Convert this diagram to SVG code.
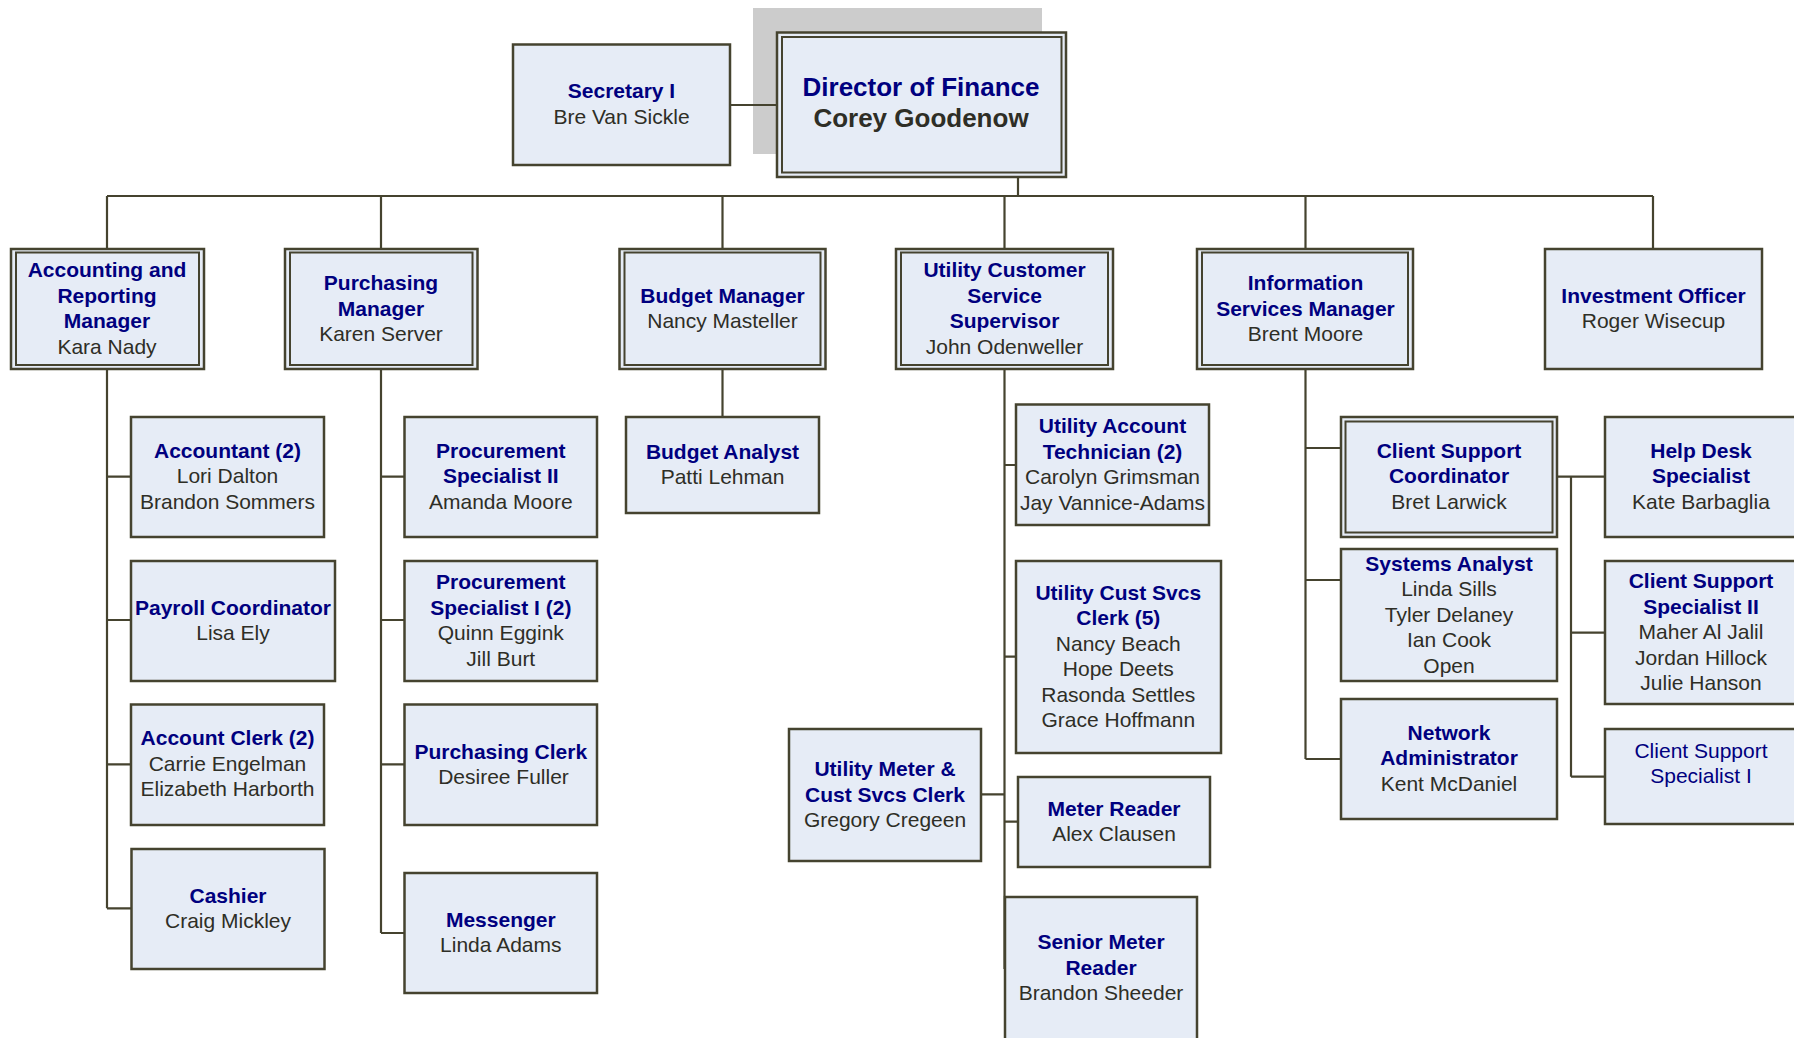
<svg xmlns="http://www.w3.org/2000/svg" width="1794" height="1038" viewBox="0 0 1794 1038">
<style>
  .bg{fill:#ffffff}
  .box{fill:#e6ecf6;stroke:#45432f;stroke-width:2.5}
  .inner{fill:none;stroke:#45432f;stroke-width:2}
  .shadow{fill:#cccccc}
  .conn{fill:none;stroke:#45432f;stroke-width:2.2}
  text{font-family:"Liberation Sans",Arial,Helvetica,sans-serif;font-size:21px;text-anchor:middle;transform:translateY(-1px)}
  .t{font-weight:bold;fill:#00007f}
  .n{fill:#2e2e26}
  .tn{fill:#00007f}
  .big{font-size:26px}
</style>
<rect class="bg" x="0" y="0" width="1794" height="1038"/>
<rect class="shadow" x="753" y="8" width="289" height="146"/>

<g id="connectors">
  <path class="conn" d="M730,105 H777"/>
  <path class="conn" d="M1018,177 V196"/>
  <path class="conn" d="M107,196 H1653"/>
  <path class="conn" d="M107,196 V249 M381,196 V249 M722.5,196 V249 M1004.5,196 V249 M1305.5,196 V249 M1653,196 V249"/>
  <path class="conn" d="M107,369 V908.3 M107,476.7 H131 M107,620 H131 M107,764.3 H131 M107,908.3 H131.5"/>
  <path class="conn" d="M381,369 V933 M381,476.7 H404.5 M381,620 H404.5 M381,764.3 H404.5 M381,933 H404.5"/>
  <path class="conn" d="M722.5,369 V417"/>
  <path class="conn" d="M1004.5,369 V969 M1004.5,465 H1016 M1004.5,656.7 H1016 M1004.5,821.7 H1018 M1004.5,794.3 H981"/>
  <path class="conn" d="M1305.5,369 V759 M1305.5,448 H1341 M1305.5,580 H1341 M1305.5,759 H1341"/>
  <path class="conn" d="M1557,476.7 H1605 M1571,476.7 V776.7 M1571,632.7 H1605 M1571,776.7 H1605"/>
</g>

<g id="director">
  <rect class="box" x="777" y="32.5" width="289" height="144.5"/>
  <rect class="inner" x="782" y="37" width="279.5" height="135.5"/>
  <text class="t big" x="921" y="97">Director of Finance</text>
  <text class="t big" x="921" y="128" style="fill:#2e2e26">Corey Goodenow</text>
</g>

<g id="secretary">
  <rect class="box" x="513" y="44.5" width="217" height="120.5"/>
  <text class="t" x="621.5" y="99">Secretary I</text>
  <text class="n" x="621.5" y="124.5">Bre Van Sickle</text>
</g>

<g id="accounting-manager">
  <rect class="box" x="11" y="249" width="193" height="120"/>
  <rect class="inner" x="16" y="252.5" width="183" height="112.5"/>
  <text class="t" x="107" y="278">Accounting and</text>
  <text class="t" x="107" y="303.5">Reporting</text>
  <text class="t" x="107" y="329">Manager</text>
  <text class="n" x="107" y="354.5">Kara Nady</text>
</g>

<g id="purchasing-manager">
  <rect class="box" x="285" y="249" width="192.5" height="120"/>
  <rect class="inner" x="290" y="252.5" width="182.5" height="112.5"/>
  <text class="t" x="381" y="291">Purchasing</text>
  <text class="t" x="381" y="316.5">Manager</text>
  <text class="n" x="381" y="342">Karen Server</text>
</g>

<g id="budget-manager">
  <rect class="box" x="619.5" y="249" width="206" height="120"/>
  <rect class="inner" x="624.5" y="252.5" width="196" height="112.5"/>
  <text class="t" x="722.5" y="303.5">Budget Manager</text>
  <text class="n" x="722.5" y="329">Nancy Masteller</text>
</g>

<g id="utility-supervisor">
  <rect class="box" x="896" y="249" width="217" height="120"/>
  <rect class="inner" x="901" y="252.5" width="207" height="112.5"/>
  <text class="t" x="1004.5" y="278">Utility Customer</text>
  <text class="t" x="1004.5" y="303.5">Service</text>
  <text class="t" x="1004.5" y="329">Supervisor</text>
  <text class="n" x="1004.5" y="354.5">John Odenweller</text>
</g>

<g id="info-services-manager">
  <rect class="box" x="1197" y="249" width="216" height="120"/>
  <rect class="inner" x="1202" y="252.5" width="206" height="112.5"/>
  <text class="t" x="1305.5" y="291">Information</text>
  <text class="t" x="1305.5" y="316.5">Services Manager</text>
  <text class="n" x="1305.5" y="342">Brent Moore</text>
</g>

<g id="investment-officer">
  <rect class="box" x="1545" y="249" width="217" height="120"/>
  <text class="t" x="1653.5" y="303.5">Investment Officer</text>
  <text class="n" x="1653.5" y="329">Roger Wisecup</text>
</g>

<g id="accountant">
  <rect class="box" x="131" y="417" width="193" height="120"/>
  <text class="t" x="227.5" y="458.5">Accountant (2)</text>
  <text class="n" x="227.5" y="484">Lori Dalton</text>
  <text class="n" x="227.5" y="509.5">Brandon Sommers</text>
</g>

<g id="payroll-coordinator">
  <rect class="box" x="131" y="561" width="204" height="120"/>
  <text class="t" x="233" y="615.75">Payroll Coordinator</text>
  <text class="n" x="233" y="641.25">Lisa Ely</text>
</g>

<g id="account-clerk">
  <rect class="box" x="131" y="704.5" width="193" height="120.5"/>
  <text class="t" x="227.5" y="746.25">Account Clerk (2)</text>
  <text class="n" x="227.5" y="771.75">Carrie Engelman</text>
  <text class="n" x="227.5" y="797.25">Elizabeth Harborth</text>
</g>

<g id="cashier">
  <rect class="box" x="131.5" y="849" width="193" height="120"/>
  <text class="t" x="228" y="903.75">Cashier</text>
  <text class="n" x="228" y="929.25">Craig Mickley</text>
</g>

<g id="procurement-specialist-2">
  <rect class="box" x="404.5" y="417" width="192.5" height="120"/>
  <text class="t" x="500.8" y="458.5">Procurement</text>
  <text class="t" x="500.8" y="484">Specialist II</text>
  <text class="n" x="500.8" y="509.5">Amanda Moore</text>
</g>

<g id="procurement-specialist-1">
  <rect class="box" x="404.5" y="561" width="192.5" height="120"/>
  <text class="t" x="500.8" y="590.25">Procurement</text>
  <text class="t" x="500.8" y="615.75">Specialist I (2)</text>
  <text class="n" x="500.8" y="641.25">Quinn Eggink</text>
  <text class="n" x="500.8" y="666.75">Jill Burt</text>
</g>

<g id="purchasing-clerk">
  <rect class="box" x="404.5" y="704.5" width="192.5" height="120.5"/>
  <text class="t" x="500.8" y="759.5">Purchasing Clerk</text>
  <text class="n" x="503.5" y="785">Desiree Fuller</text>
</g>

<g id="messenger">
  <rect class="box" x="404.5" y="873" width="192.5" height="120"/>
  <text class="t" x="500.8" y="927.75">Messenger</text>
  <text class="n" x="500.8" y="953.25">Linda Adams</text>
</g>

<g id="budget-analyst">
  <rect class="box" x="626" y="417" width="193" height="96"/>
  <text class="t" x="722.5" y="459.75">Budget Analyst</text>
  <text class="n" x="722.5" y="485.25">Patti Lehman</text>
</g>

<g id="utility-account-technician">
  <rect class="box" x="1016" y="404.5" width="193" height="120.5"/>
  <text class="t" x="1112.5" y="434">Utility Account</text>
  <text class="t" x="1112.5" y="459.5">Technician (2)</text>
  <text class="n" x="1112.5" y="485">Carolyn Grimsman</text>
  <text class="n" x="1112.5" y="510.5">Jay Vannice-Adams</text>
</g>

<g id="utility-cust-svcs-clerk">
  <rect class="box" x="1016" y="561" width="205" height="192"/>
  <text class="t" x="1118.3" y="600.75">Utility Cust Svcs</text>
  <text class="t" x="1118.3" y="626.25">Clerk (5)</text>
  <text class="n" x="1118.3" y="651.75">Nancy Beach</text>
  <text class="n" x="1118.3" y="677.25">Hope Deets</text>
  <text class="n" x="1118.3" y="702.75">Rasonda Settles</text>
  <text class="n" x="1118.3" y="728.25">Grace Hoffmann</text>
</g>

<g id="utility-meter-clerk">
  <rect class="box" x="789" y="729" width="192" height="132"/>
  <text class="t" x="885" y="777">Utility Meter &amp;</text>
  <text class="t" x="885" y="802.5">Cust Svcs Clerk</text>
  <text class="n" x="885" y="828">Gregory Cregeen</text>
</g>

<g id="meter-reader">
  <rect class="box" x="1018" y="777" width="192" height="90"/>
  <text class="t" x="1114" y="816.75">Meter Reader</text>
  <text class="n" x="1114" y="842.25">Alex Clausen</text>
</g>

<g id="senior-meter-reader">
  <rect class="box" x="1005" y="897" width="192" height="145"/>
  <text class="t" x="1101" y="950.2">Senior Meter</text>
  <text class="t" x="1101" y="975.7">Reader</text>
  <text class="n" x="1101" y="1001">Brandon Sheeder</text>
</g>

<g id="client-support-coordinator">
  <rect class="box" x="1341" y="417" width="216" height="120"/>
  <rect class="inner" x="1345.5" y="421.5" width="207" height="111"/>
  <text class="t" x="1449" y="458.5">Client Support</text>
  <text class="t" x="1449" y="484">Coordinator</text>
  <text class="n" x="1449" y="509.5">Bret Larwick</text>
</g>

<g id="systems-analyst">
  <rect class="box" x="1341" y="549" width="216" height="132"/>
  <text class="t" x="1449" y="571.5">Systems Analyst</text>
  <text class="n" x="1449" y="597">Linda Sills</text>
  <text class="n" x="1449" y="622.5">Tyler Delaney</text>
  <text class="n" x="1449" y="648">Ian Cook</text>
  <text class="n" x="1449" y="673.5">Open</text>
</g>

<g id="network-administrator">
  <rect class="box" x="1341" y="699" width="216" height="120"/>
  <text class="t" x="1449" y="740.75">Network</text>
  <text class="t" x="1449" y="766.25">Administrator</text>
  <text class="n" x="1449" y="791.75">Kent McDaniel</text>
</g>

<g id="help-desk-specialist">
  <rect class="box" x="1605" y="417" width="193" height="120"/>
  <text class="t" x="1701" y="458.5">Help Desk</text>
  <text class="t" x="1701" y="484">Specialist</text>
  <text class="n" x="1701" y="509.5">Kate Barbaglia</text>
</g>

<g id="client-support-specialist-2">
  <rect class="box" x="1605" y="561" width="193" height="143"/>
  <text class="t" x="1701" y="589">Client Support</text>
  <text class="t" x="1701" y="614.5">Specialist II</text>
  <text class="n" x="1701" y="640">Maher Al Jalil</text>
  <text class="n" x="1701" y="665.5">Jordan Hillock</text>
  <text class="n" x="1701" y="691">Julie Hanson</text>
</g>

<g id="client-support-specialist-1">
  <rect class="box" x="1605" y="729" width="193" height="95"/>
  <text class="tn" x="1701" y="758.5">Client Support</text>
  <text class="tn" x="1701" y="784">Specialist I</text>
</g>
</svg>
